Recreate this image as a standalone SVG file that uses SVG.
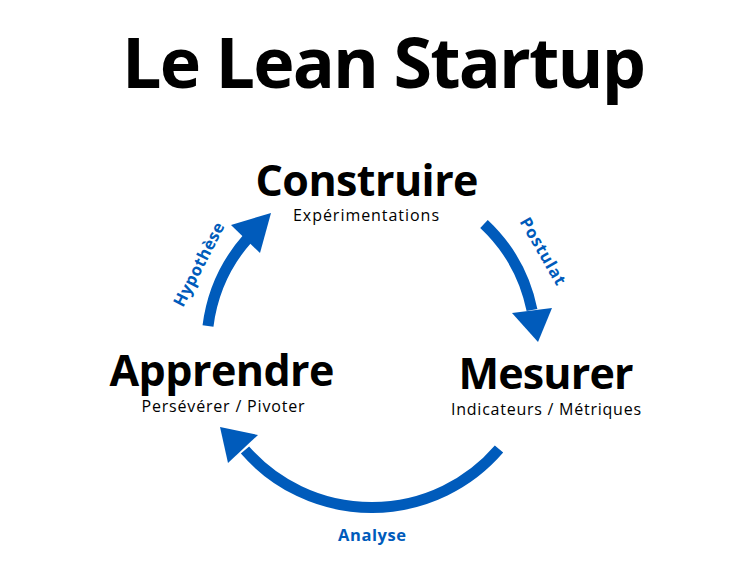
<svg xmlns="http://www.w3.org/2000/svg" width="748" height="581" viewBox="0 0 748 581">
<style>
.h{font-family:"Open Sans","Noto Sans",sans-serif;font-weight:700;fill:#000;text-anchor:middle}
.s{font-family:"Open Sans","Noto Sans",sans-serif;font-weight:400;fill:#000;text-anchor:middle;font-size:16px}
.l{font-family:"Open Sans","Noto Sans",sans-serif;font-weight:700;fill:#005BBB;text-anchor:middle;font-size:16.5px}
.c{fill:none;stroke:#005BBB;stroke-width:11}
.a{fill:#005BBB}
</style>
<rect width="748" height="581" fill="#fff"/>
<text class="h" x="384" y="88" font-size="70" textLength="524">Le Lean Startup</text>
<g id="construire">
<text class="h" x="367" y="196" font-size="43" textLength="223">Construire</text>
<text class="s" x="366" y="221" textLength="146">Expérimentations</text>
</g>
<g id="mesurer">
<text class="h" x="546" y="389" font-size="43" textLength="175">Mesurer</text>
<text class="s" x="546" y="415" textLength="190">Indicateurs / Métriques</text>
</g>
<g id="apprendre">
<text class="h" x="222" y="386" font-size="43" textLength="225">Apprendre</text>
<text class="s" x="223" y="412" textLength="163">Persévérer / Pivoter</text>
</g>
<g id="connectors">
<path class="c" d="M208,326 A163,163 0 0 1 248,238"/>
<polygon class="a" points="231,225 271,213 260,253"/>
<path class="c" d="M484,224 A163,163 0 0 1 532,310"/>
<polygon class="a" points="512,313 552,308 538,342"/>
<path class="c" d="M499,449 A168,168 0 0 1 245,450"/>
<polygon class="a" points="220,427 258,435 228,463"/>
<text class="l" transform="translate(204,267) rotate(-63)" textLength="92">Hypothèse</text>
<text class="l" transform="translate(538,254) rotate(60)" textLength="75">Postulat</text>
<text class="l" x="372" y="541" textLength="68">Analyse</text>
</g>
</svg>
